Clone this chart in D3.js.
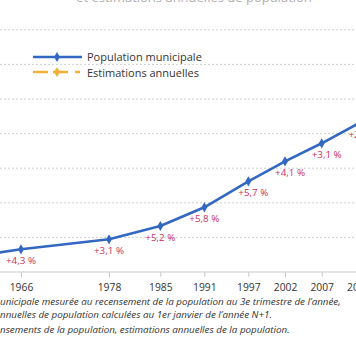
<!DOCTYPE html>
<html><head><meta charset="utf-8">
<script src="https://cdn.jsdelivr.net/npm/d3@7"></script>
<style>
html,body{margin:0;padding:0;background:#fff;overflow:hidden}
svg{display:block;font-family:"Open Sans",sans-serif}
</style></head>
<body>
<svg id="c" width="356" height="364"></svg>
<script>
// Data
const years = [1962, 1966, 1978, 1985, 1991, 1997, 2002, 2007, 2012];
const population = [10530, 10656, 10945, 11329, 11870, 12621, 13199, 13720, 14290];
const changeLabels = ["", "+4,3 %", "+3,1 %", "+5,2 %", "+5,8 %", "+5,7 %", "+4,1 %", "+3,1 %", "+2,6 %"];
const tickYears = [1966, 1978, 1985, 1991, 1997, 2002, 2007, 2012];
const gridValues = [10000, 11000, 12000, 13000, 14000, 15000, 16000, 17000];
const legendLabels = ["Population municipale", "Estimations annuelles"];
const titleText = "et estimations annuelles de population";
const notes = [
  "unicipale mesurée au recensement de la population au 3e trimestre de l’année,",
  "nnuelles de population calculées au 1er janvier de l’année N+1.",
  "nsements de la population, estimations annuelles de la population."
];

const blue = "#3368c2", red = "#c9305c", orange = "#f2b134";
const svg = d3.select("#c");

const x = d3.scaleLinear().domain([1966, 2007]).range([21, 321.7]);
const y = d3.scaleLinear().domain([10000, 17000]).range([272, 29.8]);

// title fragment (cut at top)
svg.append("text").attr("x", 194).attr("y", 1.5).attr("text-anchor", "middle")
  .attr("font-size", 13).attr("fill", "#b0b0b0").text(titleText);

// gridlines
svg.append("g").selectAll("line").data(gridValues.slice(1)).join("line")
  .attr("x1", 0).attr("x2", 356)
  .attr("y1", d => y(d)).attr("y2", d => y(d))
  .attr("stroke", "#cfcfcf").attr("stroke-width", 1).attr("stroke-dasharray", "2,2");

// x axis
const xAxis = d3.axisBottom(x).tickValues(tickYears).tickFormat(d3.format("d")).tickSize(5).tickPadding(7);
const gx = svg.append("g").attr("transform", `translate(0,${y(10000)})`).call(xAxis);
gx.select(".domain").remove();
gx.append("line").attr("x1", 0).attr("x2", 356).attr("stroke", "#c8c8c8");
gx.selectAll(".tick line").attr("stroke", "#c8c8c8");
gx.selectAll(".tick text").attr("fill", "#333").attr("font-size", 10.3).attr("font-family", "Open Sans");

// line
const pts = years.map((yr, i) => ({yr, v: population[i], lab: changeLabels[i]}));
svg.append("path").datum(pts)
  .attr("d", d3.line().x(d => x(d.yr)).y(d => y(d.v)))
  .attr("fill", "none").attr("stroke", blue).attr("stroke-width", 2.6).attr("stroke-linejoin", "round");

const diamond = d3.symbol().type(d3.symbolDiamond).size(30);
svg.append("g").selectAll("path").data(pts).join("path")
  .attr("transform", d => `translate(${x(d.yr)},${y(d.v)})`)
  .attr("d", diamond).attr("fill", blue);

svg.append("g").selectAll("text").data(pts.filter(d => d.lab)).join("text")
  .attr("x", d => x(d.yr) + (d.yr >= 1997 ? 5 : 0))
  .attr("y", d => y(d.v) + 14.5)
  .attr("text-anchor", "middle").attr("font-size", 9.8).attr("fill", red)
  .text(d => d.lab);

// legend
const lg = svg.append("g");
lg.append("line").attr("x1", 33).attr("x2", 82).attr("y1", 57).attr("y2", 57)
  .attr("stroke", blue).attr("stroke-width", 2.4);
lg.append("path").attr("transform", "translate(57,57)").attr("d", diamond).attr("fill", blue);
lg.append("line").attr("x1", 33).attr("x2", 82).attr("y1", 72).attr("y2", 72)
  .attr("stroke", orange).attr("stroke-width", 2.4).attr("stroke-dasharray", "15,5,15,7,5");
lg.append("path").attr("transform", "translate(57,72)").attr("d", diamond).attr("fill", orange);
lg.selectAll("text").data(legendLabels).join("text")
  .attr("x", 87).attr("y", (d, i) => 61 + i * 15.5)
  .attr("font-size", 11).attr("fill", "#333").text(d => d);

// notes
svg.append("g").selectAll("text").data(notes).join("text")
  .attr("x", 0).attr("y", (d, i) => [305, 317.5, 332.5][i])
  .attr("font-size", 9.8).attr("font-style", "italic").attr("fill", "#333").text(d => d);
</script>
</body></html>
